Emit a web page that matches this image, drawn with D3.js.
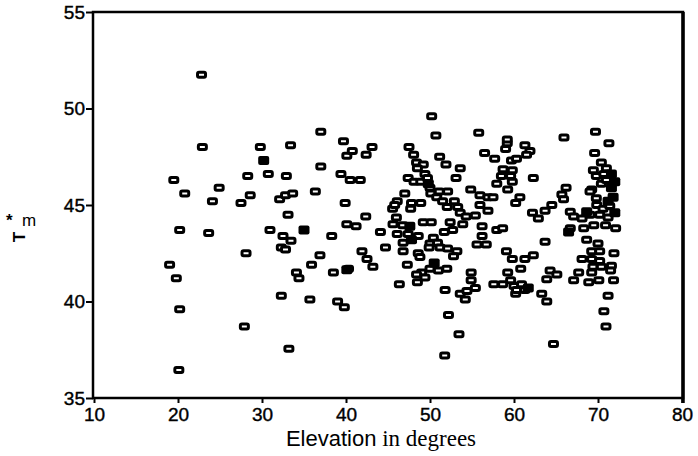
<!DOCTYPE html>
<html><head><meta charset="utf-8">
<script src="https://cdn.jsdelivr.net/npm/d3@7"></script>
<style>body{margin:0;background:#fff}</style></head><body>
<svg id="c" width="698" height="456"></svg>
<script>
// Elevation (degrees) / T*m values for open markers
const hollowX=[19.0,19.5,19.8,20.2,20.2,20.8,20.1,22.8,22.9,23.65,24.1,24.9,27.5,28.1,27.9,28.3,28.6,29.8,30.75,30.95,
32.1,32.8,33.65,32.9,33.4,33.1,32.5,33.45,32.3,32.8,34.1,34.4,32.3,33.2,36.35,35.7,35.9,36.9,37.0,37.0,
38.3,38.5,39.0,39.8,39.7,40.1,39.4,39.9,40.1,40.3,40.75,43.1,42.4,40.5,41.7,41.2,41.9,42.35,42.5,43.2,
44.1,44.7,45.55,46.0,46.1,45.8,47.0,45.6,46.75,46.1,47.4,48.6,46.8,46.8,48.6,48.8,47.3,46.35,47.4,48.1,
48.9,47.5,48.05,48.4,49.2,48.5,49.4,49.7,50.0,50.1,47.8,48.9,47.7,50.2,50.7,51.15,51.9,53.6,53.1,51.1,
52.1,50.8,51.5,52.9,52.05,53.3,53.6,54.3,55.4,49.2,50.15,52.4,53.9,50.4,50.0,50.9,49.9,51.7,52.7,51.2,
52.1,53.2,52.8,50.0,51.0,52.0,49.0,48.4,48.5,49.4,51.8,52.2,53.45,51.75,53.6,54.4,54.2,55.4,54.9,54.9,
54.85,55.8,56.5,57.7,55.95,56.9,57.5,55.95,56.9,56.2,56.2,55.6,56.7,57.95,58.65,57.6,58.65,57.95,59.0,59.2,
59.2,59.7,60.3,58.7,59.8,58.5,59.6,59.8,59.25,60.2,59.1,59.8,59.25,59.6,60.0,60.8,60.2,61.3,61.9,61.5,
62.3,60.7,65.95,66.2,65.7,65.9,64.5,63.7,62.2,62.9,66.7,67.1,68.1,69.05,66.7,68.3,69.5,70.9,72.1,63.7,
61.3,62.3,64.3,65.1,63.9,67.7,67.1,68.9,70.1,71.85,60.9,60.3,61.3,63.3,63.9,71.2,70.7,70.95,64.7,68.65,
70.0,69.25,70.2,68.1,69.25,70.2,69.4,70.4,69.25,71.6,71.5,71.9,69.7,71.3,69.6,70.4,71.0,69.45,69.8,70.7,
69.25,69.05,69.8,70.4,71.0,69.85,70.6,70.2,71.4,71.2];
const hollowY=[41.9,46.3,41.2,39.6,43.7,45.6,36.45,51.75,48.0,43.55,45.2,45.9,45.1,42.5,38.7,46.5,45.5,48.0,46.6,43.7,
45.3,45.5,45.6,46.5,48.1,44.5,43.4,43.15,42.8,42.7,41.5,41.2,40.3,37.55,45.7,40.1,41.9,42.4,48.8,47.0,
43.4,41.5,40.0,39.7,48.3,47.55,46.6,45.1,44.0,41.7,47.8,48.0,47.6,46.3,46.3,43.9,42.6,44.4,42.2,41.8,
43.6,42.8,44.8,44.35,45.2,45.0,45.6,44.0,43.95,43.5,43.5,43.4,43.05,42.6,42.5,42.3,41.9,40.9,46.4,46.2,
46.2,48.0,47.6,47.2,47.1,46.9,46.6,46.4,45.9,45.6,45.1,45.1,44.8,49.6,48.6,47.5,47.1,46.9,46.4,45.7,
45.7,45.4,45.2,45.2,44.9,44.9,44.6,44.4,44.45,44.1,44.1,44.1,44.0,43.3,43.0,43.05,42.8,43.6,43.7,42.8,
42.75,42.6,42.35,41.7,41.6,41.7,41.5,41.4,41.0,41.25,40.6,39.3,38.3,37.2,40.4,40.55,40.1,40.7,41.5,41.1,
45.8,48.75,47.7,47.4,45.5,45.4,45.4,45.0,44.7,43.9,43.4,42.95,42.95,43.7,43.8,40.9,40.9,46.1,47.9,48.2,
48.4,47.3,47.4,46.85,46.8,46.5,46.5,46.2,45.8,45.1,42.6,42.2,41.5,41.1,40.8,41.7,40.4,48.1,47.8,47.6,
46.4,45.4,48.5,45.9,45.55,45.3,45.0,44.7,44.6,44.3,44.65,44.4,44.3,44.5,43.8,43.8,43.95,43.95,43.8,43.1,
42.2,42.4,41.6,41.4,41.15,41.5,41.1,41.0,41.1,41.1,40.9,40.6,40.6,40.4,40.0,40.3,39.5,38.7,37.8,43.2,
43.0,42.6,42.6,42.2,42.2,42.1,41.8,41.8,41.5,41.85,41.6,42.5,48.8,48.2,47.7,47.2,46.9,46.8,46.5,46.6,
45.8,45.7,45.35,46.1,46.3,45.0,44.8,44.5,44.95,44.35];
// overlapping (solid) markers
const filledX=[30.2,35.0,40.1,47.6,47.8,49.8,50.5,68.65,66.5,61.7,71.6,71.6,71.8,71.2,72.0,72.0];
const filledY=[47.3,43.7,41.65,43.9,43.2,46.1,42.0,44.65,43.6,40.7,46.6,45.9,45.4,45.2,46.2,44.6];
const xTicks=[10,20,30,40,50,60,70,80];
const yTicks=[35,40,45,50,55];

const svg=d3.select('#c');
const x=d3.scaleLinear().domain([10,80]).range([94,682]);
const y=d3.scaleLinear().domain([35,55]).range([398,12]);

const font='Arial, "Liberation Sans", sans-serif';

// frame
svg.append('rect').attr('x',93).attr('y',12).attr('width',590).attr('height',386)
  .attr('fill','none').attr('stroke','#000').attr('stroke-width',2.5);
svg.append('line').attr('x1',683).attr('x2',683).attr('y1',12).attr('y2',403)
  .attr('stroke','#000').attr('stroke-width',3.5);

const ya=svg.append('g').attr('transform','translate(93,0)')
  .call(d3.axisLeft(y).tickValues(yTicks).tickSize(7).tickPadding(1).tickSizeOuter(0));
ya.select('.domain').remove();
ya.selectAll('line').attr('stroke-width',2);
ya.selectAll('text').attr('font-family',font).attr('font-size',19).attr('fill','#000')
  .attr('stroke','#000').attr('stroke-width',0.4);

const xa=svg.append('g').attr('transform','translate(0,398)')
  .call(d3.axisBottom(x).tickValues(xTicks).tickSize(5).tickPadding(5).tickSizeOuter(0));
xa.select('.domain').remove();
xa.selectAll('line').attr('stroke-width',2);
xa.selectAll('text').attr('font-family',font).attr('font-size',19).attr('fill','#000')
  .attr('stroke','#000').attr('stroke-width',0.4);

// markers
const hollow=hollowX.map((v,i)=>[v,hollowY[i]]);
const filled=filledX.map((v,i)=>[v,filledY[i]]);
svg.append('g').selectAll('rect').data(hollow).join('rect')
  .attr('x',d=>x(d[0])-4).attr('y',d=>y(d[1])-2.5).attr('width',8).attr('height',5)
  .attr('rx',1.5).attr('fill','#fff').attr('stroke','#000').attr('stroke-width',3);
svg.append('g').selectAll('rect').data(filled).join('rect')
  .attr('x',d=>x(d[0])-5.5).attr('y',d=>y(d[1])-4.5).attr('width',11).attr('height',9)
  .attr('rx',2).attr('fill','#000');

// axis titles
const t=svg.append('text').attr('x',381).attr('y',446).attr('text-anchor','middle').attr('fill','#000');
t.append('tspan').attr('font-family',font).attr('font-size',22).text('Elevation');
t.append('tspan').attr('font-family','"Liberation Serif", "Times New Roman", serif').attr('font-size',23).text(' in degrees');

svg.append('text').attr('x',6).attr('y',226).attr('font-family',font).attr('font-size',17).attr('font-weight','bold').attr('fill','#000').text('*');
svg.append('text').attr('x',22).attr('y',226).attr('font-family',font).attr('font-size',17).attr('fill','#000').text('m');
svg.append('text').attr('transform','translate(19,237) rotate(-90)').attr('text-anchor','middle').attr('dy','0.35em')
  .attr('font-family',font).attr('font-size',17).attr('font-weight','bold').attr('fill','#000').text('T');
</script></body></html>
